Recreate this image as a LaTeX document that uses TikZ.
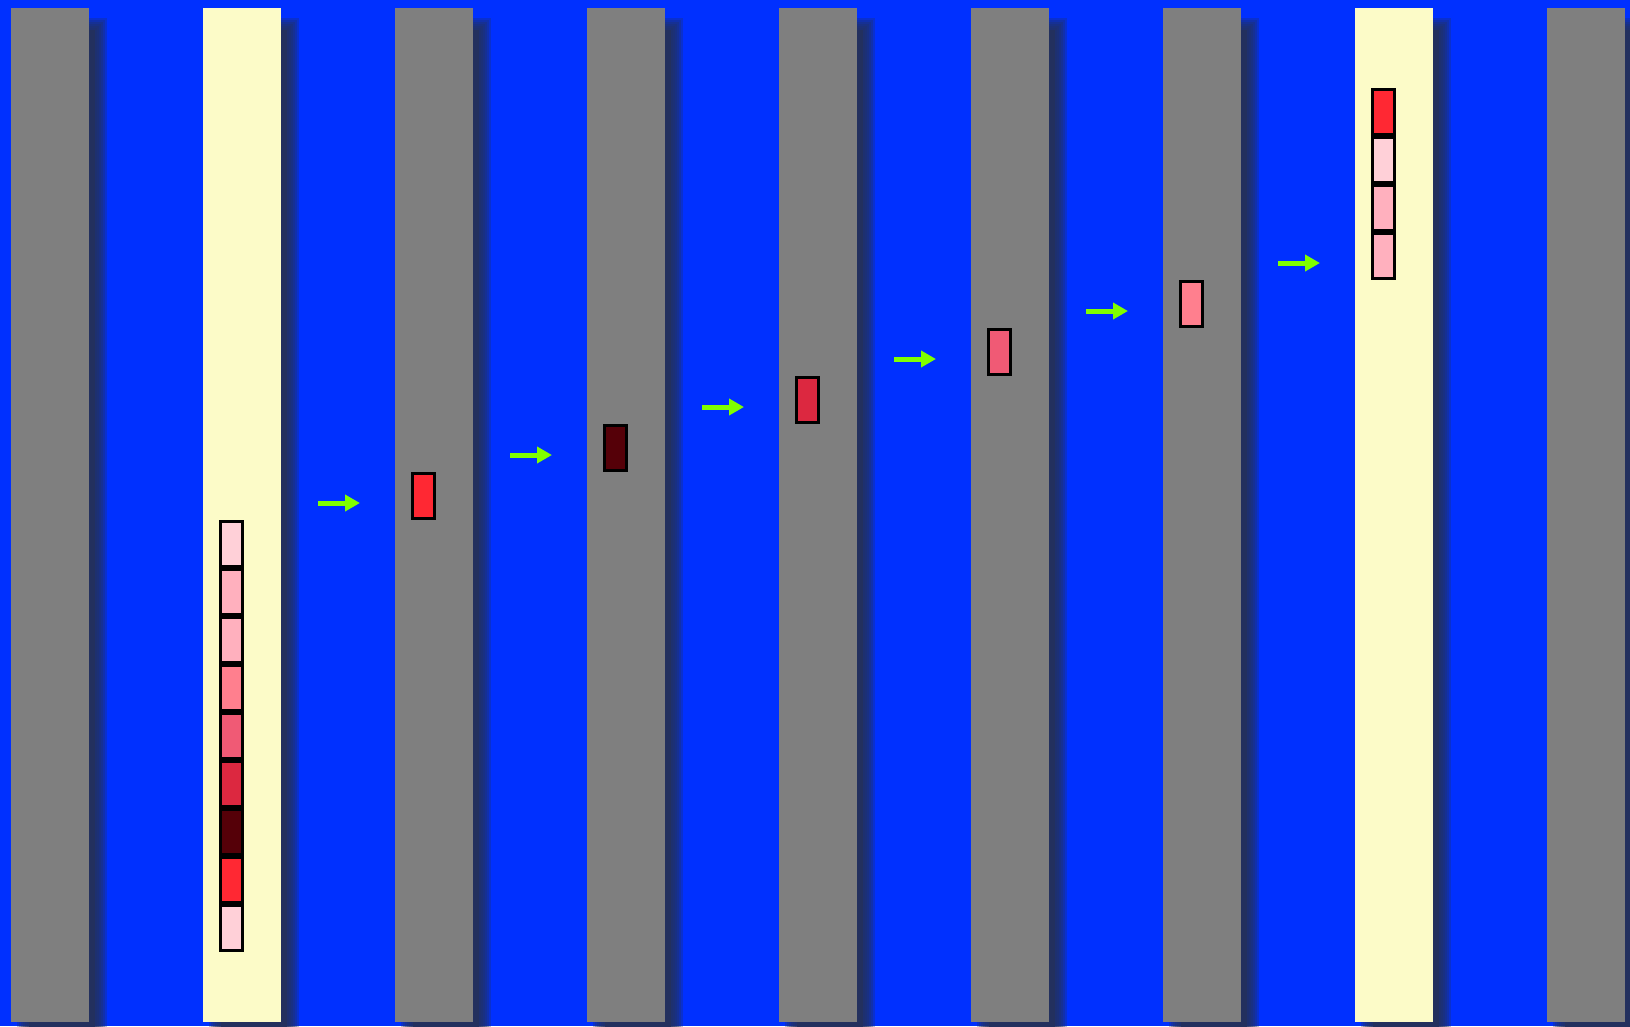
\documentclass[tikz,border=0pt]{standalone}
\usepackage{xcolor}
\usepackage{tikz}
\usetikzlibrary{arrows.meta,positioning,calc,backgrounds}
\definecolor{backdrop}{HTML}{0030FF}
\definecolor{shadowink}{HTML}{23305E}
\definecolor{lanegray}{HTML}{7F7F7F}
\definecolor{laneyellow}{HTML}{FCFBC8}
\definecolor{pushgreen}{HTML}{80FF00}
\definecolor{palepink}{HTML}{FFD0D8}
\definecolor{softpink}{HTML}{FFB0BE}
\definecolor{salmonpink}{HTML}{FF7F8E}
\definecolor{rosepink}{HTML}{F05A75}
\definecolor{crimsonred}{HTML}{DC2840}
\definecolor{maroonred}{HTML}{550008}
\definecolor{brightred}{HTML}{FF2833}

\begin{document}
\begin{tikzpicture}[x=1pt, y=-1pt,
  lane/.style={rectangle, inner sep=0pt, outer sep=0pt,
    minimum width=78pt, minimum height=1014pt},
  cell/.style={draw=black, line width=3pt, inner sep=0pt,
    minimum width=22pt, minimum height=45pt},
  push/.style={-{Triangle[length=15pt,width=16pt]}, draw=pushgreen, line width=5pt}
]
\useasboundingbox (0,0) rectangle (1630,1026);

% lanes
\node[lane, fill=lanegray, anchor=north west] (c1) at (11,8) {};
\node[lane, fill=laneyellow, right=114pt of c1] (c2) {};
\node[lane, fill=lanegray, right=114pt of c2] (c3) {};
\node[lane, fill=lanegray, right=114pt of c3] (c4) {};
\node[lane, fill=lanegray, right=114pt of c4] (c5) {};
\node[lane, fill=lanegray, right=114pt of c5] (c6) {};
\node[lane, fill=lanegray, right=114pt of c6] (c7) {};
\node[lane, fill=laneyellow, right=114pt of c7] (c8) {};
\node[lane, fill=lanegray, right=114pt of c8] (c9) {};

% backdrop and soft drop shadows behind the lanes
\begin{scope}[on background layer]
  \fill[backdrop] (0,0) rectangle (1630,1026);
  \foreach \i in {1,...,9}{
    \foreach \r in {6,4,2,0,-2,-4}
      \fill[shadowink, fill opacity=.3] ($(c\i.north west)+(12-\r,16-\r)$) rectangle ($(c\i.south east)+(12+\r,16+\r)$);
    \fill[shadowink] ($(c\i.north west)+(18,22)$) rectangle ($(c\i.south east)+(6,10)$);
  }
\end{scope}

% input queue
\node[cell, fill=palepink] (q1) at (231.5,544) {};
\node[cell, fill=softpink, below=0pt of q1] (q2) {};
\node[cell, fill=softpink, below=0pt of q2] (q3) {};
\node[cell, fill=salmonpink, below=0pt of q3] (q4) {};
\node[cell, fill=rosepink, below=0pt of q4] (q5) {};
\node[cell, fill=crimsonred, below=0pt of q5] (q6) {};
\node[cell, fill=maroonred, below=0pt of q6] (q7) {};
\node[cell, fill=brightred, below=0pt of q7] (q8) {};
\node[cell, fill=palepink, below=0pt of q8] (q9) {};

% items passing through the stages
\node[cell, fill=brightred, above=0pt of q1, xshift=192pt] (m3) {};
\node[cell, fill=maroonred, above=0pt of m3, xshift=192pt] (m4) {};
\node[cell, fill=crimsonred, above=0pt of m4, xshift=192pt] (m5) {};
\node[cell, fill=rosepink, above=0pt of m5, xshift=192pt] (m6) {};
\node[cell, fill=salmonpink, above=0pt of m6, xshift=192pt] (m7) {};

% output stack
\node[cell, fill=softpink, above=0pt of m7, xshift=192pt] (o4) {};
\node[cell, fill=softpink, above=0pt of o4] (o3) {};
\node[cell, fill=palepink, above=0pt of o3] (o2) {};
\node[cell, fill=brightred, above=0pt of o2] (o1) {};

\draw[push] ($(c2.east |- m3)+(37,7)$) -- ($(c3.west |- m3)+(-35,7)$);
\draw[push] ($(c3.east |- m4)+(37,7)$) -- ($(c4.west |- m4)+(-35,7)$);
\draw[push] ($(c4.east |- m5)+(37,7)$) -- ($(c5.west |- m5)+(-35,7)$);
\draw[push] ($(c5.east |- m6)+(37,7)$) -- ($(c6.west |- m6)+(-35,7)$);
\draw[push] ($(c6.east |- m7)+(37,7)$) -- ($(c7.west |- m7)+(-35,7)$);
\draw[push] ($(c7.east |- o4)+(37,7)$) -- ($(c8.west |- o4)+(-35,7)$);
\end{tikzpicture}
\end{document}
